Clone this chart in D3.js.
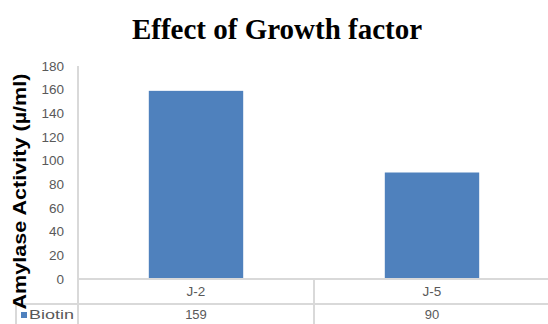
<!DOCTYPE html>
<html>
<head>
<meta charset="utf-8">
<script src="https://cdn.jsdelivr.net/npm/d3@7/dist/d3.min.js"></script>
<style>
  html, body { margin: 0; padding: 0; background: #fff; }
  svg { display: block; }
</style>
</head>
<body>
<script>
// Amylase activity of two isolates grown with biotin
const categories = ["J-2", "J-5"];
const seriesName = "Biotin";
const biotinValues = [159, 90];
const yTicks = [0, 20, 40, 60, 80, 100, 120, 140, 160, 180];
const chartTitle = "Effect of Growth factor";
const yLabel = "Amylase Activity (µ/ml)";

const W = 548, H = 324;
const plot = { left: 78, right: 550, top: 66, bottom: 279 };
const tableRow1 = 304, tableBottom = 330, legendLeft = 16;
const valueRowY = 314.5;
const gridColor = "#d9d9d9";
const textColor = "#595959";
const barColor = "#4f81bd";

const svg = d3.select("body").append("svg")
  .attr("width", W).attr("height", H);

const x = d3.scaleBand()
  .domain(categories)
  .range([plot.left, plot.right])
  .paddingInner(0.6)
  .paddingOuter(0.3);

// band edges for the data table cells
const xCell = d3.scaleBand()
  .domain(categories)
  .range([plot.left, plot.right])
  .padding(0);

const y = d3.scaleLinear()
  .domain([0, 180])
  .range([plot.bottom, plot.top]);

// Title
svg.append("text")
  .attr("x", 277).attr("y", 39)
  .attr("text-anchor", "middle")
  .attr("font-family", "Liberation Serif, Times New Roman, serif")
  .attr("font-weight", "bold")
  .attr("font-size", 29)
  .attr("fill", "#000")
  .text(chartTitle);

// Y axis with labels only
const yAxis = d3.axisLeft(y)
  .tickValues(yTicks)
  .tickSize(0)
  .tickPadding(14);

const gy = svg.append("g")
  .attr("transform", `translate(${plot.left},0)`)
  .call(yAxis);
gy.select(".domain").remove();
gy.selectAll("text")
  .attr("font-family", "Liberation Sans, Arial, sans-serif")
  .attr("font-size", 13.5)
  .attr("fill", textColor);

// Bars
svg.append("g").selectAll("rect")
  .data(biotinValues)
  .join("rect")
  .attr("x", (d, i) => x(categories[i]))
  .attr("width", x.bandwidth())
  .attr("y", d => y(d))
  .attr("height", d => y(0) - y(d))
  .attr("fill", barColor);

// Grid lines of the axis and the data table
const lines = svg.append("g")
  .attr("stroke", gridColor)
  .attr("stroke-width", 1.3)
  .attr("shape-rendering", "crispEdges");

// vertical axis line, continuing into the table
lines.append("line")
  .attr("x1", plot.left).attr("x2", plot.left)
  .attr("y1", y(180)).attr("y2", tableBottom);
// zero line / top of table
lines.append("line")
  .attr("x1", plot.left).attr("x2", W)
  .attr("y1", y(0)).attr("y2", y(0));
// row separator
lines.append("line")
  .attr("x1", legendLeft).attr("x2", W)
  .attr("y1", tableRow1).attr("y2", tableRow1);
// legend cell left border
lines.append("line")
  .attr("x1", legendLeft).attr("x2", legendLeft)
  .attr("y1", tableRow1).attr("y2", tableBottom);
// column separators
lines.selectAll(".col")
  .data(categories.slice(1))
  .join("line")
  .attr("class", "col")
  .attr("x1", d => xCell(d)).attr("x2", d => xCell(d))
  .attr("y1", y(0)).attr("y2", tableBottom);

// Table: category row
const tableFont = "Liberation Sans, Arial, sans-serif";
svg.append("g").selectAll("text")
  .data(categories)
  .join("text")
  .attr("x", d => xCell(d) + xCell.bandwidth() / 2)
  .attr("y", (y(0) + tableRow1) / 2)
  .attr("dy", "0.35em")
  .attr("text-anchor", "middle")
  .attr("font-family", tableFont)
  .attr("font-size", 13.5)
  .attr("fill", textColor)
  .text(d => d);

// Table: value row
svg.append("g").selectAll("text")
  .data(biotinValues)
  .join("text")
  .attr("x", (d, i) => xCell(categories[i]) + xCell.bandwidth() / 2)
  .attr("y", valueRowY)
  .attr("dy", "0.35em")
  .attr("text-anchor", "middle")
  .attr("font-family", tableFont)
  .attr("font-size", 13)
  .attr("fill", textColor)
  .text(d => d);

// Legend key inside the table
svg.append("rect")
  .attr("x", 21).attr("y", 312)
  .attr("width", 6).attr("height", 6)
  .attr("fill", barColor);
svg.append("text")
  .attr("x", 29).attr("y", valueRowY)
  .attr("dy", "0.35em")
  .attr("font-family", tableFont)
  .attr("font-size", 13)
  .attr("fill", textColor)
  .attr("textLength", 45)
  .attr("lengthAdjust", "spacingAndGlyphs")
  .text(seriesName);

// Y axis title
svg.append("text")
  .attr("transform", `translate(25.5,${(73 + 310) / 2}) rotate(-90)`)
  .attr("text-anchor", "middle")
  .attr("font-family", "Liberation Sans, Arial, sans-serif")
  .attr("font-weight", "bold")
  .attr("font-size", 18)
  .attr("fill", "#000")
  .attr("textLength", 236)
  .attr("lengthAdjust", "spacingAndGlyphs")
  .text(yLabel);
</script>
</body>
</html>
